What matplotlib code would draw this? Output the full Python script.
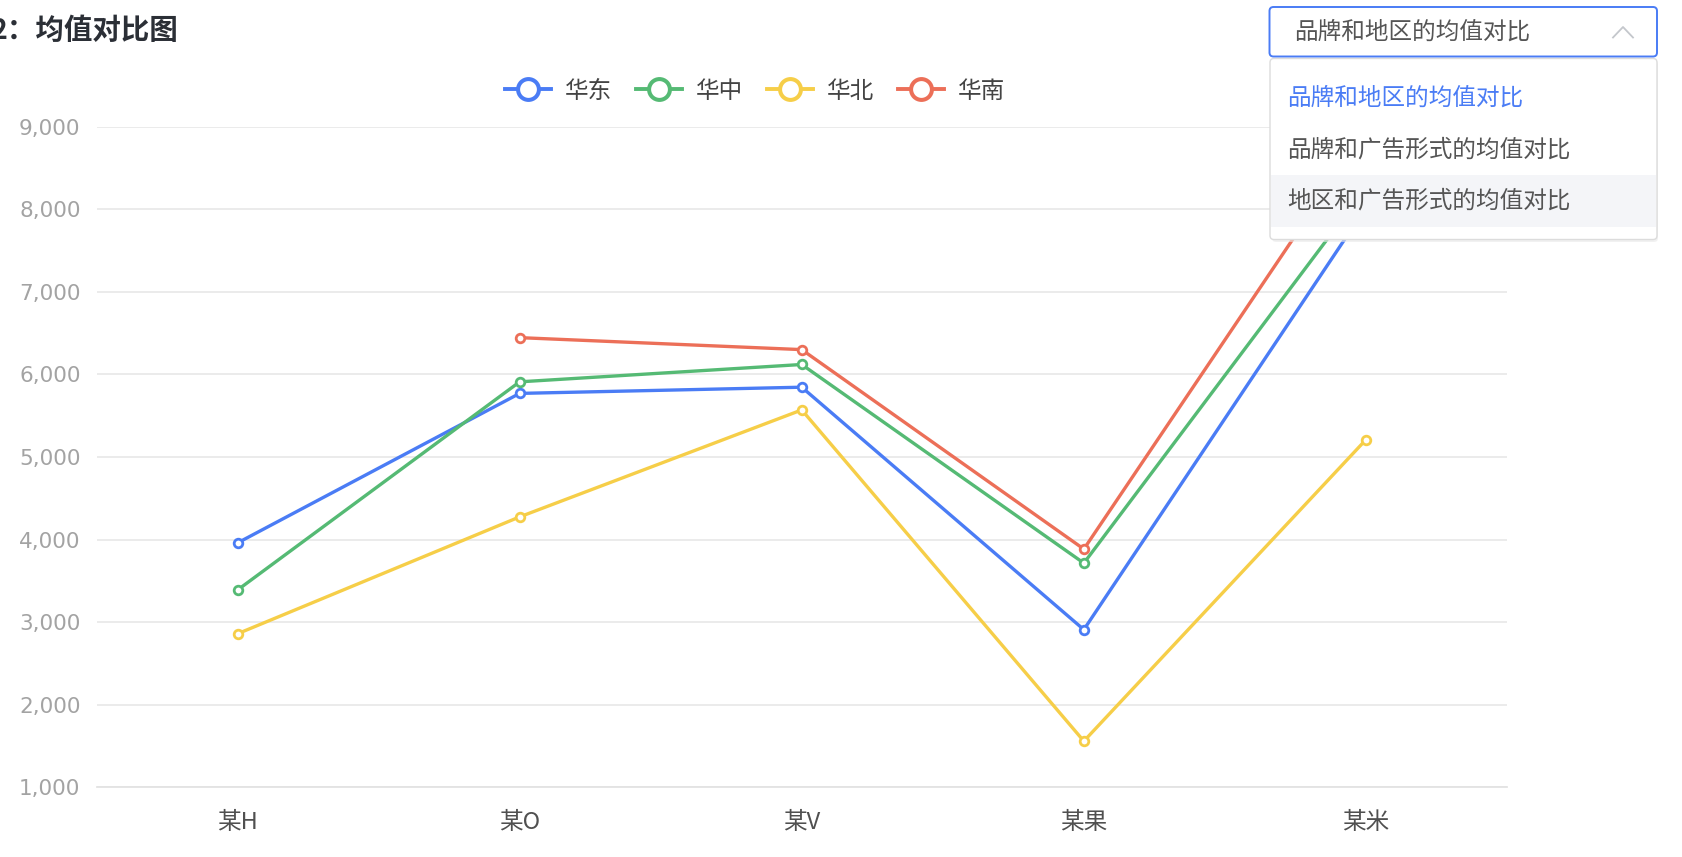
import matplotlib.pyplot as plt
import numpy as np
from matplotlib.lines import Line2D
from matplotlib.patches import FancyBboxPatch, Rectangle
from matplotlib.ticker import FuncFormatter

plt.rcParams["font.family"] = ["Noto Sans CJK SC", "DejaVu Sans"]

# Daten (Werte hinter dem Dropdown geschaetzt)
brands = ["某H", "某O", "某V", "某果", "某米"]
regions = ["华东", "华中", "华北", "华南"]
east = [3960, 5770, 5845, 2910, 8020]
central = [3390, 5910, 6120, 3715, 8260]
north = [2860, 4275, 5570, 1560, 5210]
south = [np.nan, 6445, 6300, 3885, 8950]
series = [east, central, north, south]
colors = ["#4a7cf5", "#55ba74", "#f6ce48", "#ec6f58"]

y_ticks = [1000, 2000, 3000, 4000, 5000, 6000, 7000, 8000, 9000]
menu_items = ["品牌和地区的均值对比", "品牌和广告形式的均值对比", "地区和广告形式的均值对比"]

W, H = 1682, 857
fig = plt.figure(figsize=(W / 100, H / 100), dpi=100)
ax = fig.add_axes([96.5 / W, 1 - 787.4 / H, (1507 - 96.5) / W, (787.4 - 126.6) / H])

x = np.arange(len(brands))
for values, color in zip(series, colors):
    ax.plot(
        x, values, color=color, linewidth=2.4, marker="o", markersize=6.2,
        markeredgewidth=2.0, markerfacecolor="white", markeredgecolor=color,
        zorder=3, clip_on=False,
    )

ax.set_xlim(-0.5, len(brands) - 0.5)
ax.set_ylim(y_ticks[0], y_ticks[-1])
ax.set_yticks(y_ticks)
ax.yaxis.set_major_formatter(FuncFormatter(lambda v, _: f"{int(v):,}"))
ax.set_xticks(x)
ax.set_xticklabels(brands)
ax.tick_params(axis="y", length=0, pad=11.5, labelsize=15.5, labelcolor="#a3a3a3")
ax.tick_params(axis="x", length=0, pad=17, labelsize=17, labelcolor="#505050")
for lbl in ax.get_yticklabels():
    lbl.set_fontfamily("DejaVu Sans")
    lbl.set_va("center_baseline")
ax.grid(axis="y", color="#e6e6e6", linewidth=1.1)
ax.set_axisbelow(True)
for side in ["top", "right", "left"]:
    ax.spines[side].set_visible(False)
ax.spines["bottom"].set_color("#e3e3e3")
ax.spines["bottom"].set_linewidth(1.3)

handles = [
    Line2D([], [], color=c, linewidth=2.8, marker="o", markersize=15,
           markeredgewidth=2.9, markerfacecolor="white", markeredgecolor=c)
    for c in colors
]
fig.legend(
    handles, regions, loc="center", bbox_to_anchor=(755 / W, 1 - 91 / H),
    ncol=4, frameon=False, fontsize=17, handlelength=1.95, handletextpad=0.6,
    columnspacing=1.0, borderpad=0, labelcolor="#444444",
)

fig.text(-9 / W, 1 - 31 / H, "2：均值对比图", fontsize=20.5, fontweight="bold",
         color="#2b2f36", ha="left", va="center")

# Dropdown-Overlay in Pixelkoordinaten
ov = fig.add_axes([0, 0, 1, 1], zorder=10)
ov.set_xlim(0, W)
ov.set_ylim(H, 0)
ov.axis("off")
ov.patch.set_alpha(0)

ov.add_patch(FancyBboxPatch((1272, 61), 386, 181, boxstyle="round,pad=0,rounding_size=4",
                            facecolor="#e9e9e9", edgecolor="none", alpha=0.6))
ov.add_patch(FancyBboxPatch((1270, 58.5), 387, 181, boxstyle="round,pad=0,rounding_size=4",
                            facecolor="white", edgecolor="#dcdcdc", linewidth=1.0))
ov.add_patch(Rectangle((1271, 175), 385, 51.5, facecolor="#f4f5f8", edgecolor="none"))
ov.add_patch(FancyBboxPatch((1269.5, 7), 387.5, 49.5, boxstyle="round,pad=0,rounding_size=4",
                            facecolor="white", edgecolor="#4a7cf5", linewidth=1.4))
ov.text(1294, 32, menu_items[0], fontsize=17, color="#555555", va="center", ha="left")
ov.plot([1613, 1623, 1633], [37.5, 27, 37.5], color="#c4c7cc", linewidth=1.3)

for i, label in enumerate(menu_items):
    ov.text(1287, 98 + i * 51.7, label, fontsize=17,
            color="#4a7cf5" if i == 0 else "#555555", va="center", ha="left")

fig.savefig("out.png", dpi=100)
